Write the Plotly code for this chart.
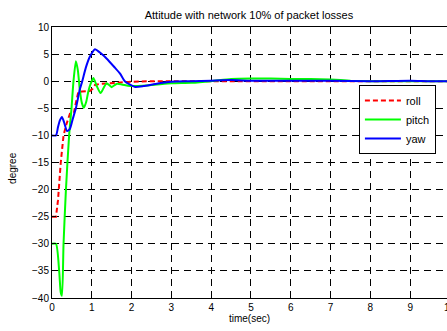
import plotly.graph_objects as go

# ---- data ----
roll_t = [0, 0.1, 0.15, 0.22, 0.29, 0.36, 0.45, 0.55, 0.6, 0.66, 0.75, 0.85, 0.95, 1.02, 1.08, 1.2, 1.4, 1.6, 1.8,
          2.0, 2.5, 3.0, 3.5, 4.0, 4.5, 5.0, 5.5, 6.0, 6.5, 7.0, 7.5, 8.0, 8.5, 9.0, 9.5, 10.0]
roll_v = [-25, -25, -22, -15, -10, -8, -6, -5.8, -4.0, -2.0, -1.9, -1.8, -1.8, -1.4, -0.7, -0.5, -0.4, -0.3, -0.2,
          -0.1, 0, 0, 0, 0, -0.1, -0.1, -0.1, -0.1, 0, 0, 0, 0, -0.1, 0, 0, 0]

pitch_t = [0, 0.1, 0.18, 0.22, 0.25, 0.29, 0.35, 0.43, 0.49, 0.54, 0.6, 0.65, 0.7, 0.75, 0.8, 0.86, 0.91, 0.97,
           1.04, 1.12, 1.22, 1.3, 1.37, 1.45, 1.5, 1.62, 1.75, 1.96, 2.5, 3.0, 3.5, 4.0, 4.5, 5.0, 5.5, 6.0, 6.5,
           7.0, 7.5, 8.0, 8.5, 9.0, 9.5, 10.0]
pitch_v = [-30, -30, -35, -39, -39.6, -30, -20, -10, -5, 0, 3.7, 2.0, -1.7, -4.0, -4.9, -3.8, -2.0, -0.5,
           0.6, -0.8, -2.2, -1.2, -0.4, -0.8, -1.1, -0.5, -0.6, -0.9, -0.7, -0.4, -0.3, 0, 0.4, 0.5, 0.5, 0.4, 0.4,
           0.3, 0.1, 0, 0, 0, 0, 0]

yaw_t = [0, 0.1, 0.15, 0.2, 0.25, 0.3, 0.38, 0.45, 0.52, 0.6, 0.7, 0.76, 0.85, 0.95, 1.08, 1.15, 1.25, 1.37, 1.58,
         1.71, 1.83, 1.95, 2.09, 2.3, 2.6, 3.0, 3.5, 4.0, 4.5, 5.0, 6.0, 7.0, 8.0, 9.0, 9.5, 10.0]
yaw_v = [-10, -10, -8.5, -7.2, -6.6, -7.5, -9.2, -8.8, -7.0, -5.0, -1.5, 0, 2.5, 4.5, 5.9, 5.6, 5.0, 4.2, 2.5,
         1.4, 0, -0.6, -1.05, -0.9, -0.5, -0.1, 0, 0.1, 0.2, 0.1, 0.1, 0.1, 0, 0.1, 0, 0]

x_ticks = [0, 1, 2, 3, 4, 5, 6, 7, 8, 9]
y_ticks = [-40, -35, -30, -25, -20, -15, -10, -5, 0, 5, 10]

FONT = "Liberation Sans, Arial, sans-serif"

fig = go.Figure()
fig.add_trace(go.Scatter(x=roll_t, y=roll_v, mode="lines", name="roll",
                         line=dict(color="#ff0000", width=2, dash="5px,3px")))
fig.add_trace(go.Scatter(x=pitch_t, y=pitch_v, mode="lines", name="pitch",
                         line=dict(color="#00ff00", width=2, shape="spline", smoothing=0.6)))
fig.add_trace(go.Scatter(x=yaw_t, y=yaw_v, mode="lines", name="yaw",
                         line=dict(color="#0000ff", width=2, shape="spline", smoothing=0.6)))

fig.update_layout(
    width=447, height=331,
    margin=dict(l=52, r=0, t=27, b=33),
    paper_bgcolor="white", plot_bgcolor="white",
    font=dict(family=FONT, size=10, color="black"),
    title=dict(text="Attitude with network 10% of packet losses", x=0.557, xanchor="center",
               y=0.955, yanchor="middle", font=dict(size=11)),
    showlegend=True,
    legend=dict(x=0.777, y=0.786, xanchor="left", yanchor="top",
                bgcolor="white", bordercolor="black", borderwidth=1,
                font=dict(size=11), tracegroupgap=0, itemwidth=36),
    xaxis=dict(range=[0, 9.925], tickvals=x_ticks, showgrid=True, gridcolor="black",
               griddash="7px,5px", gridwidth=1, zeroline=False,
               showline=True, linecolor="black", linewidth=1, mirror="ticks",
               ticks="inside", ticklen=4, tickcolor="black",
               title=dict(text="time(sec)", standoff=0, font=dict(size=10))),
    yaxis=dict(range=[-40, 10], tickvals=y_ticks, showgrid=True, gridcolor="black",
               griddash="7px,5px", gridwidth=1, zeroline=False,
               showline=True, linecolor="black", linewidth=1, mirror=False,
               ticks="inside", ticklen=4, tickcolor="black"),
)
# y-axis title placed further left, as in the reference
fig.add_annotation(text="degree", xref="paper", yref="paper", x=0, y=0.48, xanchor="center",
                   yanchor="middle", xshift=-39, textangle=-90, showarrow=False, font=dict(size=10))
# the "10" tick label, cut by the right edge of the picture
fig.add_annotation(text="10", xref="paper", yref="paper", x=1.0076, y=0, xanchor="center",
                   yanchor="top", yshift=-2, showarrow=False, font=dict(size=10))

fig.write_html("out.html", config={"displayModeBar": False},
               post_script="document.body.style.margin='0';")
